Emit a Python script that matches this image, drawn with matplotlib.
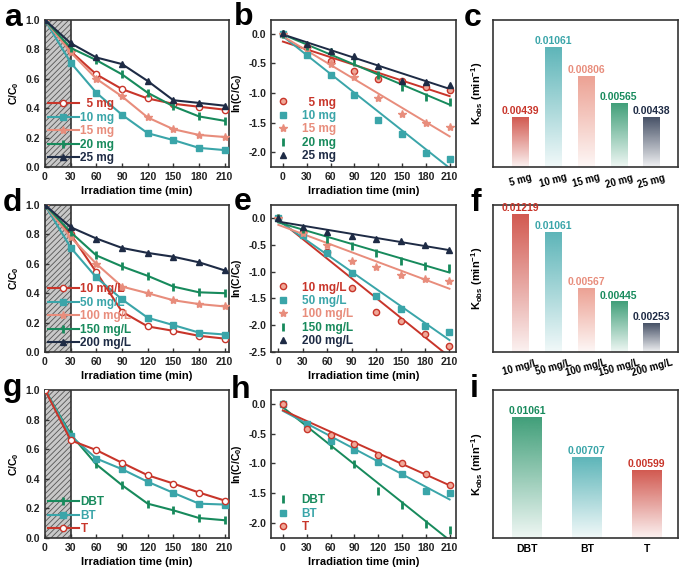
import numpy as np
import matplotlib
matplotlib.use("Agg")
import matplotlib.pyplot as plt
from matplotlib.colors import to_rgb
from matplotlib.transforms import ScaledTranslation

plt.rcParams['font.family'] = ['Liberation Sans', 'DejaVu Sans']
plt.rcParams['font.weight'] = 'bold'
plt.rcParams['axes.labelweight'] = 'bold'
plt.rcParams['mathtext.fontset'] = 'custom'
plt.rcParams['mathtext.rm'] = 'Liberation Sans:bold'
plt.rcParams['mathtext.bf'] = 'Liberation Sans:bold'
plt.rcParams['mathtext.it'] = 'Liberation Sans:bold'
plt.rcParams['mathtext.default'] = 'bf'
plt.rcParams['hatch.linewidth'] = 0.6
plt.rcParams['hatch.color'] = '#444444'

# ---------------- data ----------------
t = [0, 30, 60, 90, 120, 150, 180, 210]

# panel a : C/C0 vs catalyst dosage
a_labels = ["  5 mg", "10 mg", "15 mg", "20 mg", "25 mg"]
a_5 = [1.0, 0.787, 0.63, 0.53, 0.466, 0.43, 0.41, 0.39]
a_10 = [1.0, 0.71, 0.505, 0.355, 0.23, 0.183, 0.13, 0.115]
a_15 = [1.0, 0.78, 0.60, 0.48, 0.337, 0.257, 0.218, 0.204]
a_20 = [1.0, 0.81, 0.727, 0.63, 0.505, 0.413, 0.344, 0.314]
a_25 = [1.0, 0.842, 0.745, 0.70, 0.585, 0.454, 0.436, 0.417]

# panel b : ln(C/C0)
b_5 = [0.0, -0.225, -0.46, -0.63, -0.77, -0.80, -0.895, -0.94]
b_10 = [0.0, -0.35, -0.69, -1.025, -1.46, -1.69, -2.01, -2.12]
b_15 = [0.0, -0.24, -0.51, -0.73, -1.09, -1.36, -1.50, -1.58]
b_20 = [0.0, -0.21, -0.30, -0.47, -0.70, -0.90, -1.065, -1.155]
b_25 = [0.02, -0.165, -0.29, -0.37, -0.55, -0.79, -0.82, -0.87]
b_intercepts = [-0.13, -0.04, -0.04, -0.01, -0.01]

# panel c : rate constants
c_labels = ["5 mg", "10 mg", "15 mg", "20 mg", "25 mg"]
c_k = [0.00439, 0.01061, 0.00806, 0.00565, 0.00438]
c_text = ["0.00439", "0.01061", "0.00806", "0.00565", "0.00438"]

# panel d : C/C0 vs initial concentration
d_labels = ["10 mg/L", "50 mg/L", "100 mg/L", "150 mg/L", "200 mg/L"]
d_10 = [1.0, 0.80, 0.543, 0.274, 0.174, 0.144, 0.11, 0.091]
d_50 = [1.0, 0.71, 0.507, 0.358, 0.233, 0.183, 0.132, 0.119]
d_100 = [1.0, 0.78, 0.60, 0.445, 0.40, 0.352, 0.326, 0.31]
d_150 = [1.0, 0.815, 0.657, 0.582, 0.518, 0.445, 0.406, 0.40]
d_200 = [1.0, 0.849, 0.772, 0.708, 0.674, 0.648, 0.61, 0.555]

# panel e : ln(C/C0)
e_10 = [0.0, -0.26, -0.63, -1.30, -1.75, -1.93, -2.17, -2.385]
e_50 = [0.0, -0.32, -0.66, -1.02, -1.46, -1.69, -2.01, -2.12]
e_100 = [0.0, -0.29, -0.51, -0.81, -0.92, -1.06, -1.13, -1.17]
e_150 = [0.0, -0.20, -0.40, -0.52, -0.66, -0.81, -0.90, -0.93]
e_200 = [0.0, -0.168, -0.26, -0.34, -0.385, -0.44, -0.50, -0.59]
e_intercepts = [-0.03, -0.05, -0.13, -0.085, -0.07]

# panel f
f_labels = ["10 mg/L", "50 mg/L", "100 mg/L", "150 mg/L", "200 mg/L"]
f_k = [0.01219, 0.01061, 0.00567, 0.00445, 0.00253]
f_text = ["0.01219", "0.01061", "0.00567", "0.00445", "0.00253"]

# panel g : C/C0 for different sulfur compounds
g_labels = ["DBT", "BT", "T"]
g_DBT = [1.0, 0.70, 0.497, 0.357, 0.232, 0.187, 0.135, 0.12]
g_BT = [1.0, 0.69, 0.537, 0.465, 0.38, 0.305, 0.232, 0.226]
g_T = [1.0, 0.66, 0.594, 0.508, 0.424, 0.368, 0.307, 0.253]

# panel h : ln(C/C0)
h_DBT = [0.0, -0.36, -0.69, -1.01, -1.46, -1.69, -2.01, -2.12]
h_BT = [0.0, -0.34, -0.62, -0.78, -0.97, -1.18, -1.46, -1.49]
h_T = [0.0, -0.42, -0.52, -0.68, -0.86, -1.00, -1.17, -1.37]
h_intercepts = [-0.06, -0.12, -0.11]

# panel i
i_labels = ["DBT", "BT", "T"]
i_k = [0.01061, 0.00707, 0.00599]
i_text = ["0.01061", "0.00707", "0.00599"]

# ---------------- styles ----------------
RED = '#c8352a'
TEAL = '#3aa5a9'
SALMON = '#e88d7c'
GREEN = '#178a5c'
NAVY = '#1e2b45'
SPINE = '#333333'

five_colors = [RED, TEAL, SALMON, GREEN, NAVY]
five_markers = ['o', 's', '*', '|', '^']
five_msize = [4.5, 4, 6, 6, 4.5]

fig = plt.figure(figsize=(6.85, 5.70), dpi=100)

W, H = 685.0, 570.0


def ax_at(x0, y0, x1, y1):
    return fig.add_axes([x0 / W, 1 - y1 / H, (x1 - x0) / W, (y1 - y0) / H])


cols = [(45, 229), (271, 456), (493, 678)]
rows = [(20, 167), (205, 352), (390, 538)]


def style_axes(ax, fs=7.5):
    for s in ax.spines.values():
        s.set_color(SPINE)
        s.set_linewidth(1.2)
    ax.tick_params(direction='in', length=3, width=1, labelsize=fs,
                   colors=SPINE, labelcolor='#222222')
    for lab in ax.get_xticklabels() + ax.get_yticklabels():
        lab.set_fontweight('bold')


def conc_panel(ax, series, labels, colors, markers, msizes):
    ax.axvspan(0, 30, facecolor='#c8c8c8', hatch='//////', edgecolor='#555555',
               lw=0, zorder=0)
    ax.axvline(30, color='#333333', lw=1.2, zorder=1)
    for y, lab, c, m, ms in zip(series, labels, colors, markers, msizes):
        mfc = 'white' if m == 'o' else c
        mew = 2 if m == '|' else 1
        ax.plot(t, y, color=c, lw=1.5, marker=m, ms=ms, mfc=mfc, mec=c,
                mew=mew, label=lab, zorder=3)
    ax.set_xlim(0, 215)
    ax.set_ylim(0, 1.0)
    ax.set_xticks(t)
    ax.set_yticks([0.0, 0.2, 0.4, 0.6, 0.8, 1.0])
    ax.set_yticklabels(['0.0', '0.2', '0.4', '0.6', '0.8', '1.0'])
    ax.set_ylabel('C/C$_0$', fontsize=7.5, labelpad=3)
    ax.set_xlabel('Irradiation time (min)', fontsize=8, labelpad=3)
    leg = ax.legend(loc='lower left', frameon=False, fontsize=8.5,
                    handlelength=2.6, handletextpad=0.15, labelspacing=0.12,
                    borderaxespad=0.15, borderpad=0.1)
    for txt, c in zip(leg.get_texts(), colors):
        txt.set_color(c)
        txt.set_fontweight('bold')
    style_axes(ax)


def ln_panel(ax, series, intercepts, ks, labels, colors, markers, msizes,
             xlim, ylim, yticks):
    tt = np.array([0, 210])
    for y, b, k, lab, c, m, ms in zip(series, intercepts, ks, labels, colors,
                                      markers, msizes):
        ax.plot(tt, b - k * tt, color=c, lw=1.4, zorder=2)
        mfc = '#f0a898' if m == 'o' else c
        mew = 2 if m == '|' else 1
        ax.plot(t, y, ls='none', marker=m, ms=ms, mfc=mfc, mec=c, mew=mew,
                label=lab, zorder=3)
    ax.set_xlim(*xlim)
    ax.set_ylim(*ylim)
    ax.set_xticks(t)
    ax.set_yticks(yticks)
    ax.set_yticklabels([f"{v:.1f}" for v in yticks])
    ax.set_ylabel('ln(C/C$_0$)', fontsize=7.5, labelpad=3)
    ax.set_xlabel('Irradiation time (min)', fontsize=8, labelpad=3)
    leg = ax.legend(loc='lower left', frameon=False, fontsize=8.5,
                    handlelength=1.2, handletextpad=1.0, labelspacing=0.12,
                    borderaxespad=0.2, borderpad=0.2)
    for txt, c in zip(leg.get_texts(), colors):
        txt.set_color(c)
        txt.set_fontweight('bold')
    style_axes(ax)


def bar_panel(ax, labels, ks, texts, colors, xlim, rot, dx_px):
    w = 0.5
    for i, (k, txt, c) in enumerate(zip(ks, texts, colors)):
        rgb = np.array(to_rgb(c))
        n = 120
        img = np.zeros((n, 1, 4))
        img[:, 0, :3] = rgb
        img[:, 0, 3] = np.linspace(0.07, 0.82, n)
        ax.imshow(img, origin='lower', extent=(i - w / 2, i + w / 2, 0, k),
                  aspect='auto', interpolation='bilinear', zorder=2)
        ax.text(i, k + 0.00012, txt, color=c, ha='center', va='bottom',
                fontsize=7.5, fontweight='bold')
    ax.set_xlim(*xlim)
    ax.set_ylim(0, 0.01305)
    ax.set_xticks(range(len(labels)))
    ax.set_xticklabels(labels, rotation=rot, fontsize=7 if rot else 7.5,
                       fontweight='bold', ha='center')
    if dx_px:
        off = ScaledTranslation(dx_px / 100.0, 0, fig.dpi_scale_trans)
        for lab in ax.get_xticklabels():
            lab.set_transform(lab.get_transform() + off)
    ax.set_yticks([])
    ax.set_ylabel('K$_{obs}$ (min$^{-1}$)', fontsize=8, labelpad=6)
    for s in ax.spines.values():
        s.set_color(SPINE)
        s.set_linewidth(1.2)
    ax.tick_params(axis='x', length=0, pad=4)


# ---- row 1 ----
ax_a = ax_at(cols[0][0], rows[0][0], cols[0][1], rows[0][1])
conc_panel(ax_a, [a_5, a_10, a_15, a_20, a_25], a_labels, five_colors,
           five_markers, five_msize)

ax_b = ax_at(cols[1][0], rows[0][0], cols[1][1], rows[0][1])
ln_panel(ax_b, [b_5, b_10, b_15, b_20, b_25], b_intercepts, c_k,
         a_labels, five_colors, five_markers, five_msize, (-15, 218),
         (-2.25, 0.235), [0.0, -0.5, -1.0, -1.5, -2.0])

ax_c = ax_at(cols[2][0], rows[0][0], cols[2][1], rows[0][1])
bar_panel(ax_c, c_labels, c_k, c_text, five_colors, (-0.83, 4.8), 15, -1)

# ---- row 2 ----
ax_d = ax_at(cols[0][0], rows[1][0], cols[0][1], rows[1][1])
conc_panel(ax_d, [d_10, d_50, d_100, d_150, d_200], d_labels, five_colors,
           five_markers, five_msize)

ax_e = ax_at(cols[1][0], rows[1][0], cols[1][1], rows[1][1])
ln_panel(ax_e, [e_10, e_50, e_100, e_150, e_200], e_intercepts, f_k,
         d_labels, five_colors, five_markers, five_msize, (-9, 218),
         (-2.5, 0.24), [0.0, -0.5, -1.0, -1.5, -2.0, -2.5])

ax_f = ax_at(cols[2][0], rows[1][0], cols[2][1], rows[1][1])
bar_panel(ax_f, f_labels, f_k, f_text, five_colors, (-0.83, 4.8), 15, -9)

# ---- row 3 ----
three_colors = [GREEN, TEAL, RED]
three_markers = ['|', 's', 'o']
three_msize = [6, 4, 4.5]

ax_g = ax_at(cols[0][0], rows[2][0], cols[0][1], rows[2][1])
conc_panel(ax_g, [g_DBT, g_BT, g_T], g_labels, three_colors, three_markers,
           three_msize)

ax_h = ax_at(cols[1][0], rows[2][0], cols[1][1], rows[2][1])
ln_panel(ax_h, [h_DBT, h_BT, h_T], h_intercepts, i_k, g_labels, three_colors,
         three_markers, three_msize, (-15, 218), (-2.25, 0.23),
         [0.0, -0.5, -1.0, -1.5, -2.0])

ax_i = ax_at(cols[2][0], rows[2][0], cols[2][1], rows[2][1])
bar_panel(ax_i, i_labels, i_k, i_text, three_colors, (-0.57, 2.52), 0, 0)

# ---- panel letters ----
letters = [('a', 4, 26), ('b', 234, 25), ('c', 464, 26),
           ('d', 3, 211), ('e', 234, 210), ('f', 470, 211),
           ('g', 3, 396), ('h', 231, 398), ('i', 470, 397)]
for s, x, y in letters:
    fig.text(x / W, 1 - y / H, s, fontsize=23, fontweight='bold',
             va='baseline', ha='left', color='black')

fig.savefig('out.png', dpi=100)
